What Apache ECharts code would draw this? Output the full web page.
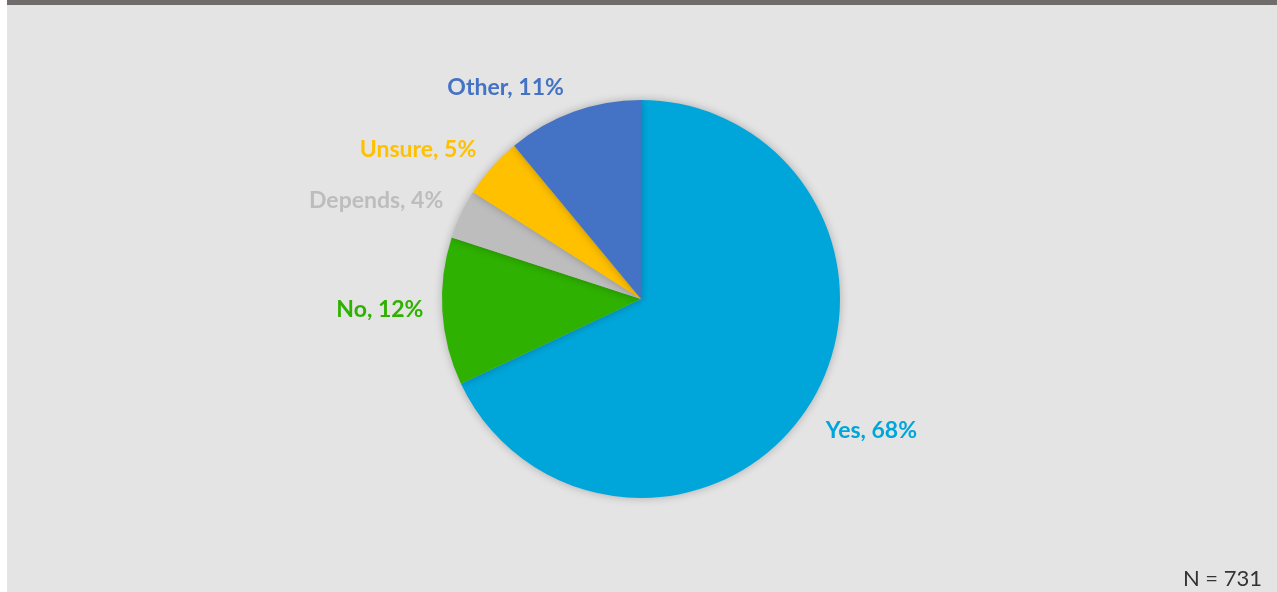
<!DOCTYPE html>
<html>
<head>
<meta charset="utf-8">
<script src="https://cdn.jsdelivr.net/npm/echarts@6/dist/echarts.min.js"></script>
<style>
  html, body { margin: 0; padding: 0; background: #ffffff; }
  #chart { width: 1277px; height: 592px; }
</style>
</head>
<body>
<div id="chart"></div>
<script>
// Survey answers (share of respondents, %)
const categories = ['Yes', 'No', 'Depends', 'Unsure', 'Other'];
const shares = [68, 12, 4, 5, 11];
const sliceColors = ['#00a6da', '#2eb100', '#bdbdbd', '#ffc000', '#4472c4'];
const sampleNote = 'N = 731';

// vertical nudges for the outside labels, in slice order
const labelNudgeY = [17, -3, -8, -9, -11];

const chart = echarts.init(document.getElementById('chart'), null, { renderer: 'canvas' });

const data = categories.map((name, i) => ({
  name: name,
  value: shares[i],
  itemStyle: { color: sliceColors[i] },
  label: { color: sliceColors[i] }
}));

chart.setOption({
  backgroundColor: '#ffffff',
  animation: false,
  graphic: [
    { type: 'rect', silent: true, z: -10, shape: { x: 7, y: 0, width: 1270, height: 592 }, style: { fill: '#e4e4e4' } },
    { type: 'rect', silent: true, z: -9, shape: { x: 7, y: 0, width: 1270, height: 5 }, style: { fill: '#716c6c' } },
    { type: 'text', silent: true, right: 15, bottom: 2,
      style: { text: sampleNote, font: '22px Lato, sans-serif', fill: '#333333' } }
  ],
  series: [{
    type: 'pie',
    center: [641, 299],
    radius: 199,
    startAngle: 90,
    clockwise: true,
    avoidLabelOverlap: false,
    data: data,
    itemStyle: {
      shadowBlur: 8,
      shadowColor: 'rgba(0,0,0,0.25)'
    },
    label: {
      show: true,
      position: 'outside',
      formatter: '{b}, {c}%',
      fontFamily: 'Lato',
      fontWeight: 'bold',
      fontSize: 23
    },
    labelLine: { show: false, length: 14, length2: 0 },
    labelLayout: function (p) {
      return { dy: labelNudgeY[p.dataIndex] };
    },
    emphasis: { disabled: true }
  }]
});
</script>
</body>
</html>
